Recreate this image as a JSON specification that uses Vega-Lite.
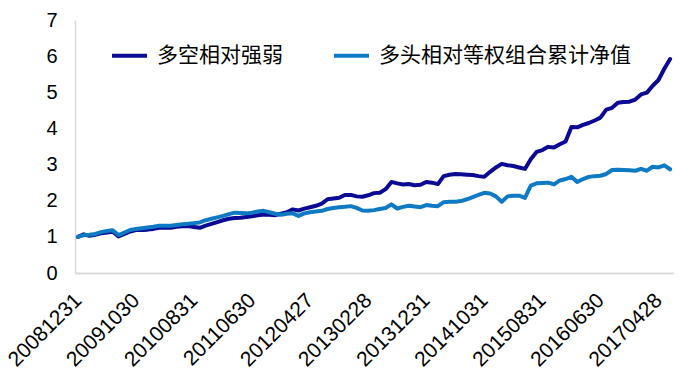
{
  "$schema": "https://vega.github.io/schema/vega-lite/v6.json",
  "width": 598,
  "height": 253,
  "autosize": {"type": "none"},
  "padding": {"left": 75, "top": 20, "right": 8, "bottom": 108},
  "background": "white",
  "config": {
    "view": {"stroke": null},
    "axis": {"grid": false, "ticks": false, "domainColor": "#D9D9D9", "domainWidth": 1.5, "labelColor": "#000000", "labelFont": "Liberation Sans", "labelFontSize": 20, "titleFontSize": 0}
  },
  "data": {
    "values": [
      {"d":"20081231","ls":1.00,"lo":1.00},{"d":"20090123","ls":1.07,"lo":1.05},{"d":"20090227","ls":1.03,"lo":1.06},{"d":"20090331","ls":1.06,"lo":1.08},
      {"d":"20090430","ls":1.10,"lo":1.13},{"d":"20090527","ls":1.12,"lo":1.16},{"d":"20090630","ls":1.14,"lo":1.18},{"d":"20090731","ls":1.01,"lo":1.05},
      {"d":"20090831","ls":1.08,"lo":1.12},{"d":"20090930","ls":1.15,"lo":1.19},{"d":"20091030","ls":1.19,"lo":1.22},{"d":"20091130","ls":1.19,"lo":1.24},
      {"d":"20091231","ls":1.20,"lo":1.26},{"d":"20100129","ls":1.22,"lo":1.28},{"d":"20100226","ls":1.25,"lo":1.31},{"d":"20100331","ls":1.25,"lo":1.31},
      {"d":"20100430","ls":1.25,"lo":1.31},{"d":"20100531","ls":1.28,"lo":1.33},{"d":"20100630","ls":1.29,"lo":1.35},{"d":"20100730","ls":1.30,"lo":1.36},
      {"d":"20100831","ls":1.27,"lo":1.38},{"d":"20100930","ls":1.25,"lo":1.40},{"d":"20101029","ls":1.31,"lo":1.46},{"d":"20101130","ls":1.36,"lo":1.50},
      {"d":"20101231","ls":1.41,"lo":1.54},{"d":"20110131","ls":1.46,"lo":1.58},{"d":"20110228","ls":1.50,"lo":1.63},{"d":"20110331","ls":1.52,"lo":1.67},
      {"d":"20110429","ls":1.53,"lo":1.66},{"d":"20110531","ls":1.55,"lo":1.65},{"d":"20110630","ls":1.57,"lo":1.67},{"d":"20110729","ls":1.60,"lo":1.70},
      {"d":"20110831","ls":1.62,"lo":1.72},{"d":"20110930","ls":1.61,"lo":1.68},{"d":"20111031","ls":1.60,"lo":1.64},{"d":"20111130","ls":1.64,"lo":1.61},
      {"d":"20111230","ls":1.68,"lo":1.64},{"d":"20120131","ls":1.76,"lo":1.65},{"d":"20120229","ls":1.73,"lo":1.58},{"d":"20120330","ls":1.78,"lo":1.65},
      {"d":"20120427","ls":1.82,"lo":1.68},{"d":"20120531","ls":1.86,"lo":1.70},{"d":"20120629","ls":1.92,"lo":1.72},{"d":"20120731","ls":2.04,"lo":1.77},
      {"d":"20120831","ls":2.06,"lo":1.80},{"d":"20120928","ls":2.08,"lo":1.82},{"d":"20121031","ls":2.16,"lo":1.83},{"d":"20121130","ls":2.16,"lo":1.85},
      {"d":"20121231","ls":2.12,"lo":1.80},{"d":"20130131","ls":2.11,"lo":1.73},{"d":"20130228","ls":2.15,"lo":1.72},{"d":"20130329","ls":2.21,"lo":1.74},
      {"d":"20130426","ls":2.22,"lo":1.77},{"d":"20130531","ls":2.32,"lo":1.80},{"d":"20130628","ls":2.52,"lo":1.90},{"d":"20130731","ls":2.48,"lo":1.78},
      {"d":"20130830","ls":2.45,"lo":1.83},{"d":"20130930","ls":2.46,"lo":1.86},{"d":"20131031","ls":2.43,"lo":1.84},{"d":"20131129","ls":2.44,"lo":1.82},
      {"d":"20131231","ls":2.52,"lo":1.88},{"d":"20140130","ls":2.50,"lo":1.86},{"d":"20140228","ls":2.46,"lo":1.85},{"d":"20140331","ls":2.68,"lo":1.96},
      {"d":"20140430","ls":2.72,"lo":1.97},{"d":"20140530","ls":2.74,"lo":1.97},{"d":"20140630","ls":2.73,"lo":1.99},{"d":"20140731","ls":2.72,"lo":2.04},
      {"d":"20140829","ls":2.71,"lo":2.10},{"d":"20140930","ls":2.68,"lo":2.16},{"d":"20141031","ls":2.66,"lo":2.22},{"d":"20141128","ls":2.80,"lo":2.20},
      {"d":"20141231","ls":2.92,"lo":2.12},{"d":"20150130","ls":3.02,"lo":1.97},{"d":"20150227","ls":2.98,"lo":2.12},{"d":"20150331","ls":2.96,"lo":2.14},
      {"d":"20150430","ls":2.92,"lo":2.14},{"d":"20150529","ls":2.88,"lo":2.08},{"d":"20150630","ls":3.15,"lo":2.42},{"d":"20150731","ls":3.35,"lo":2.48},
      {"d":"20150831","ls":3.40,"lo":2.49},{"d":"20150930","ls":3.49,"lo":2.50},{"d":"20151030","ls":3.47,"lo":2.45},{"d":"20151130","ls":3.56,"lo":2.56},
      {"d":"20151231","ls":3.64,"lo":2.60},{"d":"20160129","ls":4.04,"lo":2.66},{"d":"20160229","ls":4.03,"lo":2.52},{"d":"20160331","ls":4.10,"lo":2.60},
      {"d":"20160429","ls":4.15,"lo":2.66},{"d":"20160531","ls":4.22,"lo":2.68},{"d":"20160630","ls":4.30,"lo":2.69},{"d":"20160729","ls":4.52,"lo":2.74},
      {"d":"20160831","ls":4.57,"lo":2.85},{"d":"20160930","ls":4.71,"lo":2.86},{"d":"20161031","ls":4.73,"lo":2.85},{"d":"20161130","ls":4.74,"lo":2.84},
      {"d":"20161230","ls":4.80,"lo":2.83},{"d":"20170126","ls":4.94,"lo":2.88},{"d":"20170228","ls":4.99,"lo":2.83},{"d":"20170331","ls":5.18,"lo":2.94},
      {"d":"20170428","ls":5.34,"lo":2.92},{"d":"20170531","ls":5.65,"lo":2.98},{"d":"20170630","ls":5.92,"lo":2.87}
    ]
  },
  "transform": [{"fold": ["ls", "lo"], "as": ["s", "v"]}],
  "mark": {"type": "line", "strokeWidth": 4, "strokeJoin": "round", "strokeCap": "round"},
  "encoding": {
    "x": {
      "field": "d", "type": "ordinal", "sort": null,
      "scale": {"type": "point", "padding": 0.5},
      "axis": {
        "title": null,
        "values": ["20081231","20091030","20100831","20110630","20120427","20130228","20131231","20141031","20150831","20160630","20170428"],
        "labelAngle": -45, "labelAlign": "right", "labelBaseline": "middle", "labelPadding": 24, "labelFontSize": 21, "domainWidth": 2
      }
    },
    "y": {
      "field": "v", "type": "quantitative",
      "scale": {"domain": [0, 7], "nice": false, "zero": true},
      "axis": {"title": null, "values": [0,1,2,3,4,5,6,7], "labelPadding": 18}
    },
    "color": {
      "field": "s", "type": "nominal",
      "scale": {"domain": ["ls", "lo"], "range": ["#0A0A94", "#0E7AC4"]},
      "legend": {
        "title": null, "orient": "none", "legendX": 35, "legendY": 16, "direction": "horizontal",
        "symbolType": "stroke", "symbolSize": 1225, "symbolStrokeWidth": 4,
        "labelFont": "Noto Sans CJK SC", "labelFontSize": 21, "labelColor": "#000000", "labelOffset": 8, "labelLimit": 0,
        "columnPadding": 43,
        "labelExpr": "datum.label == 'ls' ? '多空相对强弱' : '多头相对等权组合累计净值'"
      }
    }
  }
}
